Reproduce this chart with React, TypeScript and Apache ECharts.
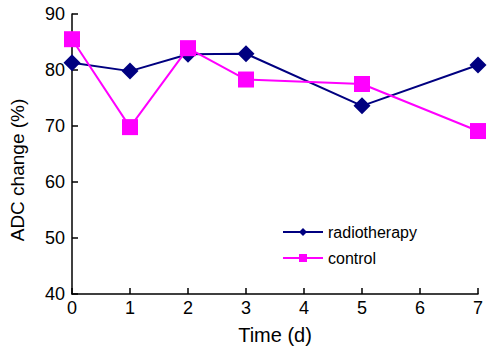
import React, { useEffect, useRef } from "react";
import * as echarts from "echarts";

const days = [0, 1, 2, 3, 5, 7];
const radiotherapy = [81.3, 79.8, 82.8, 82.9, 73.6, 80.9];
const control = [85.5, 69.8, 83.9, 78.3, 77.5, 69.1];
const seriesNames = ["radiotherapy", "control"];

export default function App() {
  const ref = useRef<HTMLDivElement>(null);
  useEffect(() => {
    if (!ref.current) return;
    const chart = echarts.init(ref.current, undefined, { renderer: "svg" });
    const font = "Liberation Sans, Arial, sans-serif";
    const axisCommon = {
      axisLine: { show: true, lineStyle: { color: "#000", width: 1.5 } },
      axisTick: { show: true, inside: true, length: 6, lineStyle: { color: "#000", width: 1.5 } },
      splitLine: { show: false },
      axisLabel: { color: "#000", fontSize: 18, fontFamily: font },
    };
    chart.setOption({
      animation: false,
      backgroundColor: "#fff",
      grid: { left: 72, right: 14, top: 14, bottom: 57, containLabel: false },
      legend: {
        orient: "vertical",
        left: 282,
        top: 224,
        padding: 0,
        itemWidth: 40,
        itemHeight: 10,
        itemGap: 10,
        textStyle: { color: "#000", fontSize: 16, fontFamily: font },
        data: seriesNames,
      },
      xAxis: {
        type: "value",
        min: 0,
        max: 7,
        interval: 1,
        name: "Time (d)",
        nameLocation: "middle",
        nameGap: 31,
        ...axisCommon,
        nameTextStyle: { color: "#000", fontSize: 20, fontFamily: font },
        axisLabel: { ...axisCommon.axisLabel, margin: 5 },
      },
      yAxis: {
        type: "value",
        min: 40,
        max: 90,
        interval: 10,
        name: "ADC change (%)",
        nameLocation: "middle",
        nameGap: 45,
        ...axisCommon,
        nameTextStyle: { color: "#000", fontSize: 19, fontFamily: font, padding: [0, 32, 0, 0] },
        axisLabel: { ...axisCommon.axisLabel, margin: 7 },
      },
      series: [
        {
          name: seriesNames[0],
          type: "line",
          data: days.map((d, i) => [d, radiotherapy[i]]),
          symbol: "diamond",
          symbolSize: 17,
          lineStyle: { color: "#000080", width: 2 },
          itemStyle: { color: "#000080" },
          z: 2,
        },
        {
          name: seriesNames[1],
          type: "line",
          data: days.map((d, i) => [d, control[i]]),
          symbol: "rect",
          symbolSize: 16,
          lineStyle: { color: "#ff00ff", width: 2 },
          itemStyle: { color: "#ff00ff" },
          z: 3,
        },
      ],
    });
    return () => chart.dispose();
  }, []);
  return <div ref={ref} style={{ width: 492, height: 351, position: "absolute", left: 0, top: 0 }} />;
}
